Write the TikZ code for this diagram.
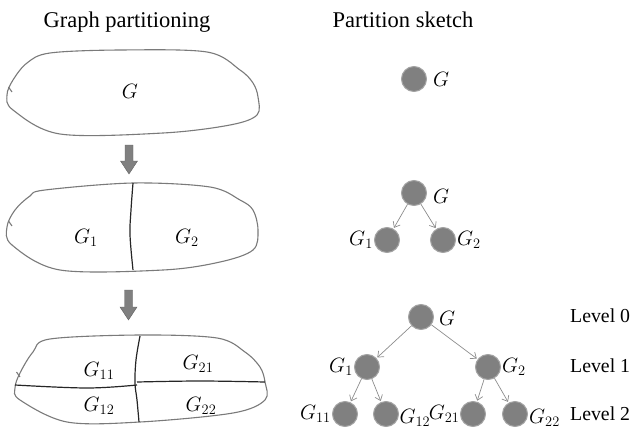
\documentclass[tikz,border=0pt]{standalone}
\usepackage{fontspec}
\setmainfont{Liberation Serif}
\DeclareMathSizes{20}{20}{15}{11}
\DeclareMathSizes{19.5}{19.5}{14.6}{11}
\usetikzlibrary{arrows.meta}
\tikzset{
  blob/.style={draw=black!52, line width=1.1pt},
  cut/.style={draw=black!85, line width=1.2pt},
  fatarrow/.style={fill=black!50, draw=black!62, line width=0.4pt},
  vtx/.style={circle, minimum size=25pt, inner sep=0pt, fill=black!50, draw=black!36, line width=1pt},
  edge/.style={draw=black!45, line width=0.7pt, -{Straight Barb[length=5pt,width=8pt]}, shorten >=1pt},
  glab/.style={inner sep=1pt, font=\fontsize{19.5}{23}\selectfont},
  blab/.style={font=\fontsize{20}{24}\selectfont},
  title/.style={anchor=base, font=\fontsize{22.5}{26}\selectfont},
  lvl/.style={anchor=west, inner sep=0pt, font=\fontsize{19.8}{23}\selectfont}
}
\begin{document}
\begin{tikzpicture}[x=1pt,y=-1pt]
\useasboundingbox (0,0) rectangle (633,429);
% titles
\node[title] (t1) at (127,27) {Graph partitioning};
\node[title] (t2) at (403,27) {Partition sketch};
% blob 1
\draw[blob] plot[smooth cycle, tension=0.55] coordinates {(7,95) (13,80) (27,63) (50,53) (120,50) (207,52) (240,70) (253,83) (258,97) (257,115) (230,125) (163,133) (60,134) (13,110)};
\draw[blob] (8.5,87) -- (12,92);
\node[blab] (g) at (130,91) {$G$};
% arrow 1
\draw[fatarrow] (125,145) -- (133,145) -- (133,161) -- (137.5,161) -- (129,174) -- (120.5,161) -- (125,161) -- cycle;
% blob 2
\draw[blob] plot[smooth cycle, tension=0.55] coordinates {(7,227) (15,210) (30,196) (45,190) (133,183) (210,187) (240,200) (253,210) (258,230) (253,250) (220,262) (163,270) (60,270) (12,245)};
\draw[blob] (8.5,221) -- (12,226);
\draw[cut] plot[smooth, tension=0.6] coordinates {(133,183) (131,210) (130,235) (133,270)};
\node[blab] (g1) at (86,238) {$G_1$};
\node[blab] (g2) at (187,238) {$G_2$};
% arrow 2
\draw[fatarrow] (124.5,290) -- (132.5,290) -- (132.5,307) -- (137,307) -- (128.5,320) -- (120,307) -- (124.5,307) -- cycle;
% blob 3
\draw[blob] plot[smooth cycle, tension=0.55] coordinates {(15,388) (20,373) (33,352) (50,339) (140,335) (217,338) (245,352) (260,367) (265,382) (265,400) (233,413) (140,422) (67,422) (20,400)};
\draw[blob] (16.5,372) -- (20,377);
\draw[cut] plot[smooth, tension=0.6] coordinates {(15,385) (87,388) (137,385)};
\draw[cut] plot[smooth, tension=0.6] coordinates {(137,382) (200,381) (265,382)};
\draw[cut] plot[smooth, tension=0.6] coordinates {(140,336) (136,360) (135,383) (137,400) (139,422)};
\node[blab] (g11) at (99,371) {$G_{11}$};
\node[blab] (g21) at (198,364) {$G_{21}$};
\node[blab] (g12) at (99,406) {$G_{12}$};
\node[blab] (g22) at (201,406) {$G_{22}$};
% tree 0
\node[vtx] (a) at (414,79) {};
\node[glab, anchor=west] (la) at ([xshift=5pt]a.east) {$G$};
% tree 1
\node[vtx] (b) at (414,193) {};
\node[vtx] (b1) at (387,240) {};
\node[vtx] (b2) at (443,240) {};
\node[glab, anchor=west] (lb) at ([xshift=5pt,yshift=-3.5pt]b.east) {$G$};
\node[glab, anchor=east] (lb1) at (b1.west) {$G_1$};
\node[glab, anchor=west] (lb2) at (b2.east) {$G_2$};
\draw[edge] (b) -- (b1);
\draw[edge] (b) -- (b2);
% tree 2
\node[vtx] (c) at (421,317) {};
\node[vtx] (c1) at (367,367) {};
\node[vtx] (c2) at (488,367) {};
\node[vtx] (c11) at (345,414) {};
\node[vtx] (c12) at (386,414) {};
\node[vtx] (c21) at (473,414) {};
\node[vtx] (c22) at (515,414) {};
\node[glab, anchor=west] (lc) at ([xshift=4pt,yshift=-1pt]c.east) {$G$};
\node[glab, anchor=east] (lc1) at (c1.west) {$G_1$};
\node[glab, anchor=west] (lc2) at (c2.east) {$G_2$};
\node[glab, anchor=east] (lc11) at (c11.west) {$G_{11}$};
\node[glab, anchor=west, inner sep=0.3pt] (lc12) at ([yshift=-4pt]c12.east) {$G_{12}$};
\node[glab, anchor=east, inner sep=0.3pt] (lc21) at (c21.west) {$G_{21}$};
\node[glab, anchor=west] (lc22) at ([yshift=-4pt]c22.east) {$G_{22}$};
\draw[edge] (c) -- (c1);
\draw[edge] (c) -- (c2);
\draw[edge] (c1) -- (c11);
\draw[edge] (c1) -- (c12);
\draw[edge] (c2) -- (c21);
\draw[edge] (c2) -- (c22);
% levels
\node[lvl] (l0) at (570,316) {Level 0};
\node[lvl] (l1) at (570,366) {Level 1};
\node[lvl] (l2) at (570,414) {Level 2};
\end{tikzpicture}
\end{document}
